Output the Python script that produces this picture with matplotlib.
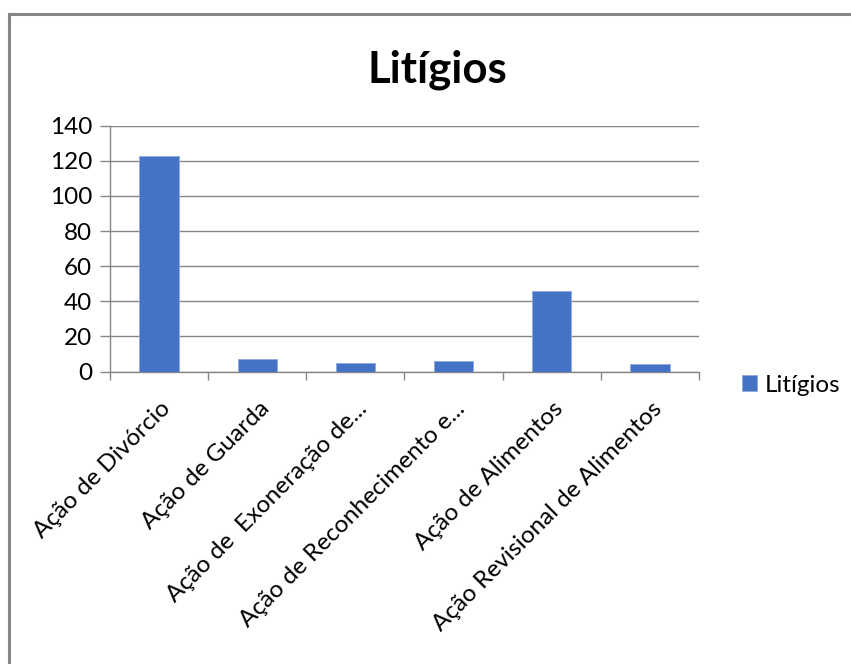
import matplotlib
matplotlib.use('Agg')
import matplotlib.pyplot as plt
from matplotlib.lines import Line2D

plt.rcParams['font.family'] = ['Lato', 'DejaVu Sans']

# data
categories = ['Ação de Divórcio', 'Ação de Guarda', 'Ação de  Exoneração de...',
              'Ação de Reconhecimento e...', 'Ação de Alimentos',
              'Ação Revisional de Alimentos']
values = [123, 7, 5, 6, 46, 4]
series_name = 'Litígios'
y_ticks = [0, 20, 40, 60, 80, 100, 120, 140]

BAR = '#4472C4'
GRID = '#868686'
FS = 17.5

W, H = 851, 664
fig = plt.figure(figsize=(W / 100, H / 100), dpi=100, facecolor='white')

# outer chart border (runs off the right and bottom edges)
fig.add_artist(Line2D([9 / W, 9 / W], [0, 1 - 14 / H], transform=fig.transFigure,
                      color=GRID, lw=2.2))
fig.add_artist(Line2D([9 / W, 1], [1 - 14 / H, 1 - 14 / H], transform=fig.transFigure,
                      color=GRID, lw=2.2))

left, right, top, bottom = 110, 699, 125.7, 371.5
ax = fig.add_axes([left / W, 1 - bottom / H, (right - left) / W, (bottom - top) / H])

x = list(range(len(categories)))
ax.bar(x, values, width=0.4, color=BAR, edgecolor='#8faadc', linewidth=0.6,
       label=series_name, zorder=3)

ax.set_xlim(-0.5, len(categories) - 0.5)
ax.set_ylim(0, 140)
ax.set_yticks(y_ticks)
ax.set_yticklabels([str(t) for t in y_ticks], fontsize=FS)
ax.yaxis.grid(True, color=GRID, lw=1.0, zorder=0)
ax.tick_params(axis='y', length=7, width=1.0, color=GRID, pad=6)

# category boundary ticks on x axis
ax.set_xticks([i - 0.5 for i in range(len(categories) + 1)])
ax.set_xticklabels([])
ax.tick_params(axis='x', length=6, width=1.0, color=GRID)
for i, lab in enumerate(categories):
    ax.text(i + 0.01, -15, lab, rotation=45, ha='right', va='top',
            rotation_mode='anchor', fontsize=FS, color='black')

for s in ['top', 'right']:
    ax.spines[s].set_visible(False)
for s in ['left', 'bottom']:
    ax.spines[s].set_color(GRID)
    ax.spines[s].set_linewidth(1.0)

fig.text(437 / W, 1 - 70 / H, 'Litígios', ha='center', va='center',
         fontsize=31.5, fontweight='bold')

# legend
leg = fig.legend(loc='center left', bbox_to_anchor=(742 / W, 1 - 385 / H),
                 frameon=False, fontsize=FS, handlelength=0.6, handleheight=0.6,
                 handletextpad=0.35, borderpad=0, borderaxespad=0)

fig.savefig('out.png', dpi=100, facecolor='white')
